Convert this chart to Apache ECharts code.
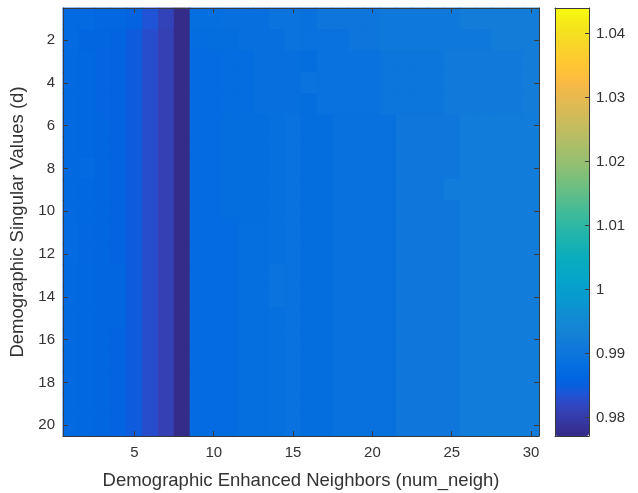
<!DOCTYPE html>
<html>
<head>
<meta charset="utf-8">
<script src="https://cdn.jsdelivr.net/npm/echarts@6/dist/echarts.min.js"></script>
<style>
html,body{margin:0;padding:0;background:#fff;}
#chart{width:638px;height:493px;}
</style>
</head>
<body>
<div id="chart"></div>
<script>
// Categories
const xCategories = [1,2,3,4,5,6,7,8,9,10,11,12,13,14,15,16,17,18,19,20,21,22,23,24,25,26,27,28,29,30];
const yCategories = [1,2,3,4,5,6,7,8,9,10,11,12,13,14,15,16,17,18,19,20];
// Tick labels
const xTickLabels = [5,10,15,20,25,30];
const yTickLabels = [2,4,6,8,10,12,14,16,18,20];
const colorbarMin = 0.9771;
const colorbarMax = 1.0440;
// Cell values, one row per singular value d (1..20), columns num_neigh 1..30
const row01 = [0.9870,0.9870,0.9864,0.9864,0.9856,0.9836,0.9812,0.9774,0.9882,0.9882,0.9886,0.9886,0.9886,0.9894,0.9894,0.9888,0.9898,0.9898,0.9898,0.9898,0.9906,0.9906,0.9906,0.9906,0.9906,0.9918,0.9918,0.9918,0.9918,0.9918];
const row02 = [0.9870,0.9862,0.9862,0.9858,0.9846,0.9828,0.9808,0.9772,0.9878,0.9880,0.9880,0.9886,0.9886,0.9886,0.9894,0.9890,0.9890,0.9890,0.9898,0.9898,0.9906,0.9906,0.9906,0.9906,0.9906,0.9906,0.9906,0.9918,0.9918,0.9918];
const row03 = [0.9868,0.9866,0.9860,0.9856,0.9846,0.9828,0.9808,0.9772,0.9876,0.9876,0.9878,0.9878,0.9886,0.9886,0.9886,0.9880,0.9890,0.9890,0.9890,0.9890,0.9900,0.9900,0.9900,0.9900,0.9910,0.9910,0.9910,0.9910,0.9910,0.9918];
const row04 = [0.9868,0.9866,0.9860,0.9856,0.9846,0.9828,0.9808,0.9772,0.9876,0.9876,0.9878,0.9878,0.9886,0.9886,0.9886,0.9894,0.9890,0.9890,0.9890,0.9890,0.9900,0.9900,0.9900,0.9900,0.9910,0.9910,0.9910,0.9910,0.9910,0.9918];
const row05 = [0.9868,0.9866,0.9860,0.9856,0.9846,0.9828,0.9808,0.9772,0.9876,0.9876,0.9878,0.9878,0.9886,0.9886,0.9886,0.9880,0.9890,0.9890,0.9890,0.9890,0.9900,0.9900,0.9900,0.9900,0.9910,0.9910,0.9910,0.9910,0.9910,0.9918];
const row06 = [0.9868,0.9866,0.9862,0.9856,0.9846,0.9828,0.9808,0.9772,0.9876,0.9876,0.9880,0.9880,0.9880,0.9884,0.9890,0.9880,0.9880,0.9888,0.9888,0.9888,0.9888,0.9904,0.9904,0.9904,0.9904,0.9916,0.9916,0.9916,0.9916,0.9916];
const row07 = [0.9868,0.9866,0.9862,0.9856,0.9846,0.9828,0.9808,0.9772,0.9876,0.9876,0.9880,0.9880,0.9880,0.9884,0.9890,0.9880,0.9880,0.9888,0.9888,0.9888,0.9888,0.9904,0.9904,0.9904,0.9904,0.9916,0.9916,0.9916,0.9916,0.9916];
const row08 = [0.9868,0.9870,0.9862,0.9856,0.9846,0.9828,0.9808,0.9772,0.9876,0.9876,0.9880,0.9880,0.9880,0.9884,0.9890,0.9880,0.9880,0.9888,0.9888,0.9888,0.9888,0.9904,0.9904,0.9904,0.9904,0.9916,0.9916,0.9916,0.9916,0.9916];
const row09 = [0.9868,0.9866,0.9862,0.9856,0.9846,0.9828,0.9808,0.9772,0.9876,0.9876,0.9880,0.9880,0.9880,0.9884,0.9890,0.9880,0.9880,0.9888,0.9888,0.9888,0.9888,0.9904,0.9904,0.9904,0.9916,0.9916,0.9916,0.9916,0.9916,0.9916];
const row10 = [0.9868,0.9866,0.9862,0.9856,0.9846,0.9828,0.9808,0.9772,0.9876,0.9876,0.9880,0.9880,0.9880,0.9884,0.9890,0.9880,0.9880,0.9888,0.9888,0.9888,0.9888,0.9904,0.9904,0.9904,0.9904,0.9916,0.9916,0.9916,0.9916,0.9916];
const row11 = [0.9870,0.9864,0.9862,0.9856,0.9846,0.9828,0.9808,0.9772,0.9876,0.9876,0.9876,0.9882,0.9882,0.9884,0.9890,0.9880,0.9880,0.9888,0.9888,0.9888,0.9888,0.9904,0.9904,0.9904,0.9904,0.9916,0.9916,0.9916,0.9916,0.9916];
const row12 = [0.9870,0.9864,0.9862,0.9856,0.9846,0.9828,0.9808,0.9772,0.9876,0.9876,0.9876,0.9882,0.9882,0.9884,0.9890,0.9880,0.9880,0.9888,0.9888,0.9888,0.9888,0.9904,0.9904,0.9904,0.9904,0.9916,0.9916,0.9916,0.9916,0.9916];
const row13 = [0.9868,0.9866,0.9862,0.9862,0.9846,0.9828,0.9808,0.9772,0.9876,0.9876,0.9876,0.9882,0.9882,0.9894,0.9890,0.9880,0.9880,0.9888,0.9888,0.9888,0.9888,0.9904,0.9904,0.9904,0.9904,0.9916,0.9916,0.9916,0.9916,0.9916];
const row14 = [0.9868,0.9866,0.9862,0.9862,0.9846,0.9828,0.9808,0.9772,0.9876,0.9876,0.9876,0.9882,0.9882,0.9894,0.9890,0.9880,0.9880,0.9888,0.9888,0.9888,0.9888,0.9904,0.9904,0.9904,0.9904,0.9916,0.9916,0.9916,0.9916,0.9916];
const row15 = [0.9868,0.9866,0.9862,0.9862,0.9846,0.9828,0.9808,0.9772,0.9876,0.9876,0.9876,0.9882,0.9882,0.9884,0.9890,0.9880,0.9880,0.9888,0.9888,0.9888,0.9888,0.9904,0.9904,0.9904,0.9904,0.9916,0.9916,0.9916,0.9916,0.9916];
const row16 = [0.9868,0.9866,0.9862,0.9856,0.9846,0.9828,0.9808,0.9772,0.9876,0.9876,0.9876,0.9882,0.9882,0.9884,0.9890,0.9880,0.9880,0.9888,0.9888,0.9888,0.9888,0.9904,0.9904,0.9904,0.9904,0.9916,0.9916,0.9916,0.9916,0.9916];
const row17 = [0.9868,0.9866,0.9862,0.9856,0.9846,0.9828,0.9808,0.9772,0.9876,0.9876,0.9876,0.9882,0.9882,0.9884,0.9890,0.9880,0.9880,0.9888,0.9888,0.9888,0.9888,0.9904,0.9904,0.9904,0.9904,0.9916,0.9916,0.9916,0.9916,0.9916];
const row18 = [0.9868,0.9866,0.9862,0.9856,0.9846,0.9828,0.9808,0.9772,0.9876,0.9876,0.9876,0.9882,0.9882,0.9884,0.9890,0.9880,0.9880,0.9888,0.9888,0.9888,0.9888,0.9904,0.9904,0.9904,0.9904,0.9916,0.9916,0.9916,0.9916,0.9916];
const row19 = [0.9868,0.9866,0.9862,0.9856,0.9846,0.9828,0.9808,0.9772,0.9876,0.9876,0.9876,0.9882,0.9882,0.9884,0.9890,0.9880,0.9880,0.9888,0.9888,0.9888,0.9888,0.9904,0.9904,0.9904,0.9904,0.9916,0.9916,0.9916,0.9916,0.9916];
const row20 = [0.9868,0.9866,0.9862,0.9856,0.9846,0.9828,0.9808,0.9772,0.9876,0.9876,0.9876,0.9882,0.9882,0.9884,0.9890,0.9880,0.9880,0.9888,0.9888,0.9888,0.9888,0.9904,0.9904,0.9904,0.9904,0.9916,0.9916,0.9916,0.9916,0.9916];
const rowValues = [row01,row02,row03,row04,row05,row06,row07,row08,row09,row10,row11,row12,row13,row14,row15,row16,row17,row18,row19,row20];

const parula = ['#352a87','#363093','#3637a0','#353dad','#3243ba','#2c4ac7','#2053d4','#0f5cdd','#0363e1','#0268e1','#046de0','#0871de','#0d75dc','#1079da','#127dd8','#1481d6','#1485d4','#1389d3','#108ed2','#0c93d2','#0998d1','#079ccf','#06a0cd','#06a4ca','#06a7c6','#07a9c2','#0aacbe','#0faeb9','#16b1b4','#1db3af','#25b5a9','#2eb7a4','#38b99e','#42bb98','#4dbc92','#59bd8c','#65be86','#71bf80','#7cbf7b','#87bf77','#92bf73','#9cbf6f','#a5be6b','#aebe67','#b7bd64','#c0bc60','#c8bc5d','#d1bb59','#d9ba56','#e1ba52','#e9b94e','#f1b94a','#f8bb44','#fdbe3d','#ffc337','#fec832','#fcce2e','#fad32a','#f7d826','#f5de21','#f5e41d','#f5eb18','#f6f313','#f9fb0e'];

const cells = [];
rowValues.forEach((row, r) => row.forEach((v, c) => cells.push([c, r, v])));

const FONT = "'Liberation Sans', Arial, Helvetica, sans-serif";
const AX = '#3a3a3a';
const TXT = '#333333';
const tickFnX = (i, v) => xTickLabels.indexOf(Number(v)) >= 0;
const tickFnY = (i, v) => yTickLabels.indexOf(Number(v)) >= 0;

const chart = echarts.init(document.getElementById('chart'), null, {renderer: 'canvas'});
chart.setOption({
  animation: false,
  backgroundColor: '#ffffff',
  grid: [
    {left: 63, top: 8, width: 476, height: 428, containLabel: false, outerBoundsMode: 'none', show: true, borderWidth: 0, backgroundColor: '#0a6ddf'},
    {left: 555, top: 8, width: 34, height: 428, containLabel: false, outerBoundsMode: 'none'}
  ],
  xAxis: [
    {type: 'category', gridIndex: 0, data: xCategories, position: 'bottom', z: 5,
     name: 'Demographic Enhanced Neighbors (num_neigh)', nameLocation: 'middle', nameGap: 35,
     nameTextStyle: {fontFamily: FONT, fontSize: 18.5, color: TXT},
     axisLine: {show: true, lineStyle: {color: AX, width: 1}},
     axisTick: {show: true, inside: true, length: 5, alignWithLabel: true, interval: tickFnX, lineStyle: {color: AX}},
     axisLabel: {show: true, interval: tickFnX, margin: 9, fontFamily: FONT, fontSize: 15, color: TXT},
     splitLine: {show: false}},
    {type: 'category', gridIndex: 0, data: xCategories, position: 'top', z: 5,
     axisLine: {show: true, lineStyle: {color: AX, width: 1}},
     axisTick: {show: true, inside: true, length: 5, alignWithLabel: true, interval: tickFnX, lineStyle: {color: AX}},
     axisLabel: {show: false}, splitLine: {show: false}},
    {type: 'value', gridIndex: 1, min: 0, max: 1, position: 'bottom', z: 10,
     axisLine: {show: true, onZero: false, lineStyle: {color: AX, width: 1}},
     axisTick: {show: false}, axisLabel: {show: false}, splitLine: {show: false}},
    {type: 'value', gridIndex: 1, min: 0, max: 1, position: 'top', z: 10,
     axisLine: {show: true, onZero: false, lineStyle: {color: AX, width: 1}},
     axisTick: {show: false}, axisLabel: {show: false}, splitLine: {show: false}}
  ],
  yAxis: [
    {type: 'category', gridIndex: 0, data: yCategories, inverse: true, position: 'left', z: 5,
     name: 'Demographic Singular Values (d)', nameLocation: 'middle', nameGap: 23, nameRotate: 90,
     nameTextStyle: {fontFamily: FONT, fontSize: 18.5, color: TXT},
     axisLine: {show: true, lineStyle: {color: AX, width: 1}},
     axisTick: {show: true, inside: true, length: 5, alignWithLabel: true, interval: tickFnY, lineStyle: {color: AX}},
     axisLabel: {show: true, interval: tickFnY, margin: 8, fontFamily: FONT, fontSize: 15, color: TXT},
     splitLine: {show: false}},
    {type: 'category', gridIndex: 0, data: yCategories, inverse: true, position: 'right', z: 5,
     axisLine: {show: true, lineStyle: {color: AX, width: 1}},
     axisTick: {show: true, inside: true, length: 5, alignWithLabel: true, interval: tickFnY, lineStyle: {color: AX}},
     axisLabel: {show: false}, splitLine: {show: false}},
    {type: 'value', gridIndex: 1, min: colorbarMin, max: colorbarMax, position: 'right', z: 10,
     axisLine: {show: true, onZero: false, lineStyle: {color: AX, width: 1}},
     axisTick: {show: true, inside: true, length: 4, lineStyle: {color: AX}},
     axisLabel: {show: true, margin: 7, showMinLabel: false, showMaxLabel: false, fontFamily: FONT, fontSize: 15, color: TXT},
     splitLine: {show: false}},
    {type: 'value', gridIndex: 1, min: colorbarMin, max: colorbarMax, position: 'left', z: 10,
     axisLine: {show: true, onZero: false, lineStyle: {color: AX, width: 1}},
     axisTick: {show: false}, axisLabel: {show: false}, splitLine: {show: false}}
  ],
  visualMap: {
    type: 'continuous', min: colorbarMin, max: colorbarMax, seriesIndex: [0, 1],
    orient: 'vertical', left: 555, top: 8, itemWidth: 34, itemHeight: 428, padding: 0,
    calculable: false, realtime: false, hoverLink: false, text: null, showLabel: false,
    inRange: {color: parula}
  },
  series: [
    {type: 'heatmap', xAxisIndex: 0, yAxisIndex: 0, data: cells,
     itemStyle: {borderWidth: 0}, emphasis: {disabled: true}, progressive: 0},
    {type: 'heatmap', xAxisIndex: 0, yAxisIndex: 0, data: cells,
     itemStyle: {borderWidth: 0}, emphasis: {disabled: true}, progressive: 0, silent: true}
  ]
});
</script>
</body>
</html>
